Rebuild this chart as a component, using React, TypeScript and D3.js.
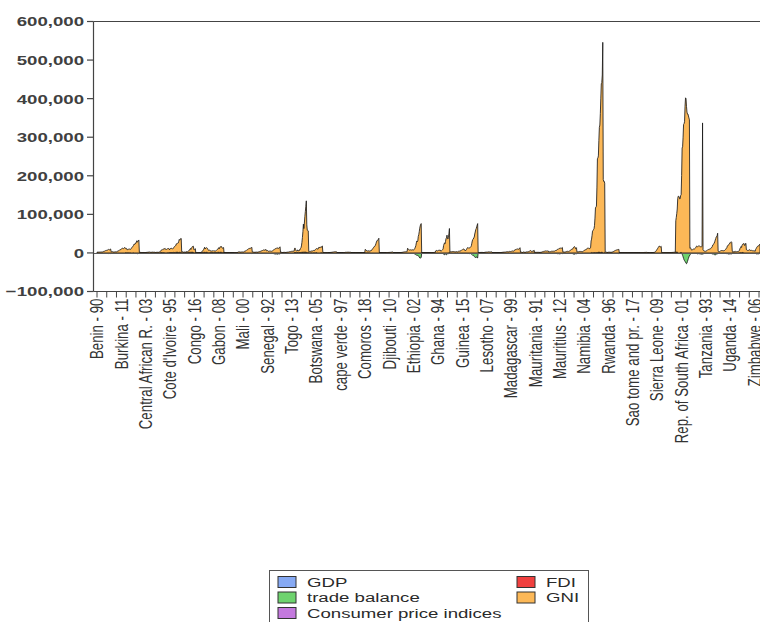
import React, { useEffect, useRef } from "react";
import * as d3 from "d3";

// panel: 47 countries x 1990-2018
const years = d3.range(1990, 2019);

const countries = [
  "Benin", "Burkina", "Cameroon", "Central African R.", "Chad", "Cote d'Ivoire", "Congo",
  "Equatorial Guinea", "Gabon", "Guinea-Bissau", "Mali", "Niger", "Senegal", "Togo",
  "Angola", "Botswana", "Burundi", "cape verde", "Comoros", "Congo DR", "Djibouti",
  "Eritrea", "Ethiopia", "Gambia", "Ghana", "Guinea", "Kenya", "Lesotho", "Liberia",
  "Madagascar", "Malawi", "Mauritania", "Mauritius", "Mozambique", "Namibia", "Nigeria",
  "Rwanda", "Sao tome and pr.", "Seychelles", "Sierra Leone", "Somalia",
  "Rep. of South Africa", "Sudan", "Tanzania", "Uganda", "Zambia", "Zimbabwe"
];

// GNI per country and year, in thousands of axis units
const gni = [
  [1.9,1.9,2.1,2.1,1.5,2,2.2,2.2,2.3,2.4,2.3,2.4,2.8,3.5,4,4.3,4.6,5.4,6.4,6.6,6.5,7.2,7.4,8.3,9.1,8.1,8.4,9.1,10.2],
  [3.1,3.1,3.3,3.1,1.9,2.4,2.6,2.4,2.7,2.8,2.5,2.7,3.1,4.1,4.8,5.4,5.8,6.7,8.2,8.3,8.9,10.5,11,12,12.2,10.7,11.5,12.5,14.2],
  [11,10.8,11.3,10.7,7.3,8.2,8.9,9.2,9.3,9.9,9,9.1,10.4,13,14.9,15.6,16.8,19.3,22.6,22.2,22.6,25.5,25,28.3,31.6,28,29.2,31.8,33.5],
  [1.4,1.3,1.3,1.2,0.9,1.1,1,0.9,1,1,0.9,0.9,0.9,1.1,1.2,1.3,1.4,1.6,1.9,1.9,2,2.2,2.1,1.5,1.6,1.6,1.8,1.9,2.2],
  [1.7,1.8,1.8,1.4,1.1,1.4,1.5,1.4,1.6,1.5,1.4,1.7,1.9,2.5,3.5,5,5.5,6.5,7.5,7,8.5,10,10,10.5,11,9,9,9,10],
  [10.2,10.1,10.8,10.3,7.1,9.8,10.4,10,10.8,10.7,9.3,9.5,10.5,13.5,15.3,15.8,16.5,18.7,22.2,22,22.8,23.5,24.6,29.1,33.5,31.8,33.5,36.2,36.5],
  [2.5,2.5,2.7,2,1.5,1.7,1.9,2,1.6,1.9,2.6,2.3,2.4,2.8,3.7,5.2,6.8,7.2,10,8,10.5,13,15,15,16,9,7.5,8,10],
  [0.1,0.1,0.1,0.1,0.1,0.1,0.2,0.3,0.3,0.5,0.7,1.2,1.7,2.5,4,6,7.5,10,13,9,11,12,12,11,10.5,7.5,6.5,6.5,7],
  [5,4.5,5,4.2,3.6,4.2,4.5,4.8,4,4,4.5,4.2,4.3,5.4,6,7.2,8,10,12,9.5,11.5,14.5,14.5,15,15,12,11.5,12,13],
  [0.3,0.3,0.2,0.2,0.2,0.3,0.3,0.3,0.2,0.2,0.2,0.2,0.2,0.3,0.3,0.4,0.4,0.5,0.6,0.6,0.6,0.8,0.7,0.8,0.8,0.9,1,1.2,1.3],
  [2.4,2.4,2.6,2.5,1.7,2.2,2.5,2.3,2.5,2.4,2.1,2.3,3,4,4.5,5,5.5,6.5,7.8,8.2,9.3,10.7,10.5,11,12.5,12,12.8,13.5,14.5],
  [2.4,2.3,2.2,1.6,1.5,1.8,1.9,1.8,2,2,1.8,1.9,2.1,2.7,3,3.4,3.6,4.2,5.3,5.3,5.6,6.2,7,7.5,8.1,7.2,7.5,8.1,9.2],
  [5.5,5.5,6,5.7,3.8,4.6,4.8,4.3,4.5,4.6,4.2,4.4,4.8,6,7.1,7.6,8.2,9.8,11.3,10.8,11,12.2,11.8,12.7,13.3,11.5,12.5,13.8,15.8],
  [1.6,1.6,1.6,1.2,0.9,1.2,1.3,1.4,1.4,1.4,1.2,1.2,1.4,1.6,1.8,2,2.1,2.4,3,3.1,3.2,3.6,3.8,4.2,4.5,4,4.2,4.6,5.1],
  [10.5,11.2,7.8,5.2,3.9,4.2,6.6,6.1,4.5,4.1,7.2,7.1,10.4,12.3,16.8,25.9,38.6,53.5,72.5,61.8,75.6,92.1,105.4,118.6,133.5,72,58,57,56],
  [3.5,3.6,3.7,3.9,4,4.5,4.7,5,4.9,5.4,5.9,5.6,5.7,7.8,9.2,9.8,10.4,10.5,10.3,9.5,12.5,15,14,14.2,15.3,13.8,15.2,16.4,17.8],
  [1.1,1.1,1,0.9,0.9,1,0.9,0.9,0.9,0.8,0.8,0.7,0.6,0.6,0.6,1.1,1.2,1.3,1.6,1.7,2,2.2,2.4,2.6,2.9,3,2.9,3,3],
  [0.3,0.3,0.4,0.4,0.4,0.5,0.5,0.5,0.6,0.6,0.5,0.5,0.6,0.8,0.9,1,1.1,1.4,1.6,1.6,1.6,1.8,1.7,1.8,1.8,1.6,1.7,1.8,1.9],
  [0.25,0.25,0.3,0.3,0.2,0.3,0.3,0.25,0.25,0.25,0.2,0.2,0.25,0.35,0.4,0.4,0.4,0.45,0.55,0.55,0.55,0.6,0.6,0.65,0.7,0.6,0.6,0.65,0.7],
  [9,8,7,5,4,5,5,5,6,4,5,5,7,7,8,10,12,14,16,16,18,20,24,28,31,33,33,35,38],
  [0.4,0.4,0.4,0.4,0.5,0.5,0.5,0.5,0.5,0.5,0.6,0.6,0.6,0.6,0.7,0.7,0.8,0.9,1,1.1,1.2,1.3,1.4,1.5,1.6,1.8,2,2.2,2.5],
  [0.5,0.5,0.5,0.5,0.5,0.6,0.6,0.7,0.7,0.7,0.6,0.7,0.6,0.6,0.6,0.9,1.1,1.2,1.4,1.7,2,2.3,2.5,2.7,2.8,2.9,3,3.1,3.2],
  [12,10,9,8,7.5,7.5,8,8,7.5,7.5,8,8,7.5,8,9.5,12,15,19,26,31,29,31,43,47,55,64,70,74,76],
  [0.3,0.3,0.35,0.35,0.35,0.4,0.45,0.45,0.45,0.45,0.45,0.4,0.35,0.35,0.4,0.6,0.6,0.9,1,0.9,0.9,0.9,0.9,0.9,0.8,1.3,1.4,1.4,1.5],
  [5.5,6.2,6.2,5.8,5.1,6.2,6.6,6.6,7.2,7.3,4.8,5,5.8,7,8.5,10.5,19,23,26,24,30,37,39,46,37,36,40,50,62],
  [2.5,2.8,3,3,3.2,3.5,3.6,3.6,3.4,3.3,2.8,2.7,2.8,3.2,3.4,2.8,2.7,3.8,4.2,4.4,4.5,4.6,5.5,6.2,7.5,8.2,8.2,9.5,10.5],
  [8.3,7.8,8,5.5,7,8.8,12,13,14,12.5,12.6,12.8,13,14.7,16,18.5,25,31,35,36,39,41,49,54,60,63,68,72,76],
  [0.8,0.9,1,1,1,1.2,1.2,1.3,1.2,1.2,1.1,1,0.9,1.3,1.6,1.8,1.9,2,2,2,2.4,2.7,2.6,2.6,2.6,2.5,2.4,2.6,2.8],
  [0.4,0.35,0.3,0.2,0.2,0.15,0.15,0.25,0.35,0.4,0.45,0.45,0.45,0.4,0.5,0.6,0.7,0.8,0.9,1.1,1.3,1.5,1.6,1.8,1.9,2,2.1,2.2,2.1],
  [3,2.6,3,3.2,2.9,3.1,3.9,3.5,3.6,3.6,3.8,4.4,4.3,5.3,4.3,4.9,5.4,7.2,9.1,8.3,8.4,9.6,9.7,10.4,10.6,9.5,9.9,11.2,13.5],
  [1.8,2.1,1.8,2.1,1.2,1.4,2.2,2.6,1.7,1.7,1.7,1.7,2.6,2.5,2.6,2.9,3.2,3.6,4.2,4.9,5.9,6.2,4.2,3.7,4.2,4.2,3.3,6.3,6.8],
  [1.2,1.3,1.4,1.4,1.4,1.5,1.5,1.5,1.5,1.5,1.3,1.3,1.4,1.6,1.9,2.3,3,3.2,3.8,3.3,4,4.7,5,5.2,5,4.6,4.8,5,5.1],
  [2.6,2.8,3.1,3.2,3.5,3.9,4.3,4.3,4.2,4.3,4.4,4.4,4.6,5.5,6.2,6.3,6.6,7.6,9.4,8.7,9.7,11.2,11.6,12,12.5,11.5,12,12.9,14],
  [2.4,2.7,1.9,2.1,2.1,2.3,2.9,3.4,3.9,4,4.1,3.8,3.9,4.5,5.3,6.2,7,7.9,9.5,9.6,9.8,12.4,14.5,15.5,16.3,15.1,11,12,13.5],
  [2.4,2.6,3,2.9,3.3,3.7,3.7,3.8,3.6,3.5,3.5,3.2,3.1,4.6,6,6.5,7.2,8.2,8,8.3,10.6,12,12.3,12.6,12.4,11,10.7,13.2,13.7],
  [30,35,45,56,58,60,62,70,90,116,118,120,170,243,245,250,290,324,330,360,400,437,440,460,545,190,185,185,180],
  [2.5,2,2,2,0.7,1.3,1.4,1.8,1.9,1.8,1.7,1.6,1.6,1.7,1.9,2.5,3,3.6,4.6,5.2,5.6,6.3,7.1,7.4,7.9,8.2,8.3,8.8,9.3],
  [0.1,0.1,0.1,0.1,0.1,0.1,0.1,0.1,0.1,0.1,0.1,0.1,0.1,0.1,0.1,0.1,0.1,0.15,0.2,0.2,0.2,0.25,0.25,0.3,0.35,0.3,0.35,0.35,0.4],
  [0.35,0.35,0.4,0.45,0.45,0.45,0.45,0.5,0.55,0.55,0.55,0.55,0.6,0.65,0.75,0.8,0.9,0.95,0.85,0.75,0.9,1,1,1.2,1.2,1.25,1.3,1.4,1.5],
  [0.6,0.7,0.6,0.7,0.8,0.8,0.8,0.8,0.6,0.6,0.6,1,1.1,1.2,1.5,2,3,4,6,8,10,12,14,16,18,17,15,16,17],
  [0.9,0.9,0.8,0.8,0.8,0.9,0.9,0.9,0.9,0.9,0.9,0.9,0.9,0.9,1,1,1,1,1,1,1.1,1.1,1.2,1.3,1.4,1.5,1.6,1.7,1.8],
  [82,90,100,112,140,147,147,145,140,140,148,150,200,272,275,300,333,335,340,380,402,400,380,365,360,360,355,350,345],
  [12,13,12,8,7,8,9,10,10,10,11,12,14,16,18,17,16,17,18,17,18,17,16,17,16,17,337,8,6],
  [4.5,4.8,4.2,4.2,4.4,5.1,6.3,7.6,8.3,8.6,9.4,9.6,10,10.6,11.6,13.7,14,16.5,20.5,21.3,23.8,25.3,28.8,33,37,41,43,45,51],
  [4.2,3.3,2.8,3.2,3.9,5.6,5.9,6.1,6.5,5.9,5.8,5.6,5.7,6.2,7.8,8.9,9.7,12,14,18,19.5,19.7,22,23.5,26.2,26,27,29,27],
  [3.6,3.4,3.1,3.1,3.3,3.5,3.2,3.9,3.3,3.2,3.4,3.7,3.6,4.2,5.1,6.8,11.5,12.7,16,13.8,18,21,22,23.3,24.5,19.5,19.5,24,25],
  [8.4,8.2,6.6,6.3,6.6,6.9,8.2,8.2,6,6.6,6.5,6.6,6,5.5,5.4,5.5,5.2,5.1,4.2,9,11,13.5,16,17,18,18.5,19,21,23]
];

// trade balance per country and year, in thousands of axis units
const tradeBalance = [
  [-0.2,-0.2,-0.3,-0.3,-0.2,-0.3,-0.3,-0.3,-0.3,-0.3,-0.3,-0.3,-0.4,-0.5,-0.5,-0.5,-0.6,-0.9,-1.1,-1,-1,-1.2,-1.3,-1.5,-1.6,-1.2,-1.1,-1.3,-1.5],
  [-0.4,-0.4,-0.4,-0.4,-0.3,-0.4,-0.5,-0.5,-0.5,-0.5,-0.4,-0.4,-0.4,-0.5,-0.6,-0.7,-0.7,-0.8,-1,-0.6,-0.4,-0.2,-0.3,-0.6,-0.4,-0.5,-0.3,-0.4,-0.5],
  [0.6,0.5,0.4,0.4,0.5,0.4,0.4,0.3,0.1,0.2,0.4,0.1,0,-0.1,-0.2,0,0.5,0.2,-0.3,-1.2,-1,-1.5,-1.2,-1.5,-1.6,-2,-1.4,-1.2,-1.6],
  [-0.1,-0.1,-0.1,-0.1,-0.1,-0.1,-0.1,-0.1,-0.1,-0.1,-0.1,-0.1,-0.1,-0.1,-0.1,-0.1,-0.1,-0.2,-0.2,-0.2,-0.3,-0.3,-0.3,-0.3,-0.4,-0.4,-0.4,-0.4,-0.4],
  [-0.2,-0.2,-0.2,-0.2,-0.1,-0.2,-0.2,-0.2,-0.2,-0.2,-0.3,-0.8,-1.2,-0.4,0.5,0.9,1,1.1,1.2,0.3,0.5,0.8,0.6,0.5,0.6,-0.2,-0.3,0.1,0.3],
  [0.6,0.6,0.6,0.6,0.8,0.9,1,1,1,1,0.9,1,1.3,1.2,1.1,1,1.3,1.1,1.5,1.6,1.4,1.8,1.2,1.1,1.5,1.3,1.1,1.2,0.7],
  [0.3,0.3,0.3,0.3,0.2,0.3,0.4,0.5,0.3,0.5,0.8,0.6,0.6,0.7,0.9,1.2,1.4,1.2,1.5,1,1.5,1.5,1.6,1.4,1.2,0.2,-0.5,0.6,1],
  [0,0,0,0,0,0,0,0.1,0,0.2,0.4,0.6,0.8,0.8,1,1.2,1.3,1.4,1.5,1,1.2,1.4,1.5,1.3,1.2,0.6,0.4,0.5,0.6],
  [0.8,0.7,0.8,0.7,0.8,0.9,1,1,0.5,0.8,1,0.9,0.8,0.9,1,1.2,1.3,1.4,1.5,1,1.3,1.5,1.5,1.4,1.3,0.8,0.6,0.8,1],
  [-0.1,-0.1,-0.1,-0.1,-0.1,-0.1,-0.1,-0.1,-0.1,-0.1,-0.1,-0.1,-0.1,-0.1,-0.1,-0.1,-0.1,-0.1,-0.1,-0.1,-0.1,-0.1,-0.1,-0.1,0,0,0,0,-0.1],
  [-0.3,-0.3,-0.3,-0.3,-0.2,-0.3,-0.3,-0.2,-0.2,-0.3,-0.3,-0.2,0,-0.2,-0.3,-0.4,-0.2,-0.5,-0.9,-0.6,-1,-1,-0.4,-0.8,-1,-0.9,-1,-1.1,-1.2],
  [-0.1,-0.1,-0.1,-0.1,-0.1,-0.1,-0.1,-0.1,-0.2,-0.1,-0.1,-0.1,-0.2,-0.2,-0.3,-0.3,-0.3,-0.4,-0.8,-1.2,-1.5,-1.3,-0.8,-0.9,-1.2,-1.3,-1,-1.1,-1.3],
  [-0.6,-0.6,-0.6,-0.6,-0.4,-0.5,-0.6,-0.6,-0.6,-0.7,-0.8,-0.8,-0.9,-1.1,-1.4,-1.8,-2,-2.8,-3.4,-2.5,-2.4,-2.8,-3.2,-3.2,-3,-2.2,-2,-2.6,-3],
  [-0.2,-0.2,-0.2,-0.1,-0.1,-0.2,-0.2,-0.2,-0.2,-0.2,-0.2,-0.2,-0.2,-0.3,-0.3,-0.4,-0.5,-0.5,-0.6,-0.6,-0.7,-1,-1,-1.1,-1,-0.8,-0.8,-0.8,-0.9],
  [1.5,1.2,1,0.8,0.7,0.8,1,1,0.5,0.8,1,0.8,1,1,1.3,1.5,1.6,1.8,2,1.2,1.8,2,2,1.8,1.5,0.8,0.6,1,1.2],
  [0.1,0.1,0.1,0.1,0.1,0.2,0.3,0.3,0,0.2,0.5,0.4,0.3,0.3,0.2,0.6,0.8,0.5,-0.4,-0.8,-0.9,-0.6,-1.2,-0.3,0.4,-0.6,0.7,0.3,-0.4],
  [-0.2,-0.2,-0.2,-0.2,-0.2,-0.1,-0.1,-0.1,-0.1,-0.1,-0.1,-0.1,-0.1,-0.1,-0.2,-0.3,-0.4,-0.4,-0.4,-0.4,-0.5,-0.6,-0.7,-0.7,-0.7,-0.6,-0.6,-0.6,-0.7],
  [-0.1,-0.1,-0.1,-0.1,-0.2,-0.2,-0.2,-0.2,-0.2,-0.2,-0.2,-0.2,-0.2,-0.3,-0.3,-0.3,-0.4,-0.5,-0.6,-0.5,-0.5,-0.6,-0.5,-0.4,-0.4,-0.3,-0.3,-0.4,-0.4],
  [-0.1,-0.1,-0.1,-0.1,-0.1,-0.1,-0.1,-0.1,-0.1,-0.1,-0.1,-0.1,-0.1,-0.1,-0.1,-0.1,-0.2,-0.2,-0.2,-0.2,-0.2,-0.2,-0.2,-0.2,-0.2,-0.2,-0.2,-0.2,-0.2],
  [0.3,0.3,0.2,0.2,0.3,0.3,0.2,0.2,0.1,0.1,0.1,0,0,-0.1,-0.2,-0.4,-0.5,-0.6,-0.9,-0.8,-0.4,-0.5,-1,-0.6,-0.5,-0.8,-0.4,-0.3,-0.2],
  [-0.1,-0.1,-0.1,-0.1,-0.1,-0.1,-0.1,-0.1,-0.1,-0.1,-0.1,-0.1,-0.1,-0.1,-0.2,-0.2,-0.3,-0.4,-0.5,-0.4,-0.3,-0.4,-0.5,-0.6,-0.6,-0.8,-0.7,-0.6,-0.5],
  [-0.2,-0.2,-0.2,-0.2,-0.3,-0.4,-0.4,-0.4,-0.4,-0.4,-0.4,-0.4,-0.4,-0.4,-0.5,-0.4,-0.4,-0.5,-0.5,-0.5,-0.5,-0.3,-0.2,-0.2,-0.2,-0.3,-0.2,-0.2,-0.2],
  [-0.6,-0.5,-0.5,-0.6,-0.7,-0.8,-0.9,-1,-1,-1.2,-1.1,-1.3,-1.4,-1.6,-2.2,-3,-4,-4.3,-5.5,-6,-6.2,-6.5,-8,-8.5,-10.5,-13,-13.5,-12.5,-12],
  [-0.1,-0.1,-0.1,-0.1,-0.1,-0.1,-0.1,-0.1,-0.1,-0.1,-0.1,-0.1,-0.1,-0.1,-0.1,-0.1,-0.2,-0.2,-0.2,-0.2,-0.2,-0.2,-0.2,-0.2,-0.2,-0.2,-0.3,-0.3,-0.3],
  [-0.5,-0.6,-0.8,-0.9,-0.5,-0.5,-0.7,-1,-1,-1.2,-0.8,-0.9,-0.6,-0.8,-1.5,-2.5,-3,-3.8,-4.8,-2,-3,-3.5,-4.5,-4,-1.5,-3,-2,1,1.3],
  [-0.1,-0.1,-0.1,-0.1,-0.1,-0.1,-0.1,-0.1,-0.1,-0.1,-0.1,-0.1,-0.1,-0.1,-0.1,-0.2,-0.2,-0.3,-0.4,-0.2,-0.5,-0.6,-0.6,-0.6,-0.5,-0.6,-0.4,-0.3,-0.3],
  [-0.8,-0.6,-0.5,-0.3,-0.5,-1.2,-1.1,-1.5,-1.6,-1.3,-1.5,-1.8,-1.5,-1.5,-2,-3,-4,-5,-6.5,-6,-7,-9.5,-10.5,-11,-12.5,-11,-10,-12.5,-13],
  [-0.5,-0.6,-0.6,-0.6,-0.7,-0.8,-0.8,-0.8,-0.7,-0.6,-0.5,-0.5,-0.5,-0.5,-0.6,-0.7,-0.8,-0.9,-1,-1.1,-1.3,-1.4,-1.4,-1.3,-1.2,-1.1,-1,-1,-1.1],
  [-0.1,-0.1,-0.1,-0.1,-0.1,-0.1,-0.1,-0.1,-0.1,-0.1,-0.1,-0.1,-0.1,-0.2,-0.2,-0.3,-0.4,-0.5,-0.6,-0.6,-0.7,-0.8,-0.9,-0.9,-0.9,-0.8,-0.7,-0.7,-0.8],
  [-0.3,-0.3,-0.2,-0.2,-0.2,-0.3,-0.3,-0.3,-0.3,-0.3,-0.2,-0.2,-0.2,-0.3,-0.4,-0.5,-0.6,-0.8,-1.2,-0.9,-0.8,-0.7,-0.6,-0.7,-0.6,-0.5,-0.5,-0.6,-0.7],
  [-0.1,-0.1,-0.1,-0.1,-0.1,-0.1,-0.1,-0.1,-0.1,-0.1,-0.1,-0.1,-0.2,-0.2,-0.2,-0.3,-0.4,-0.5,-0.6,-0.7,-0.8,-0.9,-1,-1,-1.1,-1,-0.9,-1,-1.1],
  [-0.1,-0.1,-0.1,-0.1,-0.1,-0.1,-0.1,-0.1,-0.1,-0.1,-0.1,-0.1,-0.1,-0.2,-0.2,-0.4,-0.3,-0.5,-0.6,-0.5,-0.4,-0.5,-0.9,-1,-0.8,-0.9,-0.6,-0.6,-0.7],
  [-0.3,-0.3,-0.3,-0.4,-0.4,-0.4,-0.4,-0.4,-0.4,-0.4,-0.4,-0.4,-0.5,-0.6,-0.8,-1,-1.2,-1.5,-1.9,-1.6,-1.8,-2.1,-2.3,-2.2,-2,-1.6,-1.5,-1.7,-2],
  [-0.2,-0.3,-0.3,-0.3,-0.3,-0.4,-0.4,-0.4,-0.4,-0.3,-0.3,-0.3,-0.4,-0.5,-0.6,-0.8,-1,-1.1,-1.3,-1.5,-1.8,-2.4,-3,-3.3,-3.2,-2.9,-2,-2.2,-2.6],
  [-0.1,-0.1,-0.1,-0.2,-0.2,-0.2,-0.2,-0.2,-0.2,-0.2,-0.2,-0.2,-0.3,-0.3,-0.4,-0.5,-0.5,-0.6,-0.8,-0.8,-0.9,-1,-1.2,-1.4,-1.5,-1.4,-1.2,-1,-1.1],
  [0.8,0.7,0.5,0.4,0.3,0.6,0.9,0.8,0.2,0.5,1.2,0.8,0.6,0.9,1.3,1.5,1.6,1.4,1.5,0.9,1.2,1.4,1.5,1.3,0.9,-0.4,0.2,0.6,0.8],
  [-0.2,-0.2,-0.2,-0.2,-0.2,-0.2,-0.2,-0.2,-0.2,-0.2,-0.2,-0.2,-0.2,-0.2,-0.3,-0.4,-0.5,-0.6,-0.8,-0.9,-1,-1.1,-1.2,-1.3,-1.3,-1.3,-1.2,-1.1,-1.3],
  [-0.1,-0.1,-0.1,-0.1,-0.1,-0.1,-0.1,-0.1,-0.1,-0.1,-0.1,-0.1,-0.1,-0.1,-0.1,-0.1,-0.1,-0.1,-0.1,-0.1,-0.1,-0.1,-0.1,-0.1,-0.1,-0.1,-0.1,-0.1,-0.1],
  [-0.2,-0.2,-0.2,-0.2,-0.2,-0.2,-0.2,-0.2,-0.2,-0.2,-0.2,-0.2,-0.2,-0.3,-0.3,-0.3,-0.4,-0.5,-0.6,-0.5,-0.5,-0.5,-0.6,-0.6,-0.6,-0.6,-0.5,-0.5,-0.6],
  [-0.1,-0.1,-0.1,-0.1,-0.1,-0.1,-0.1,-0.1,-0.1,-0.1,-0.1,-0.1,-0.1,-0.1,-0.2,-0.2,-0.2,-0.2,-0.3,-0.3,-0.4,-0.6,-0.5,-0.4,-0.6,-0.8,-0.6,-0.7,-0.8],
  [-0.2,-0.2,-0.2,-0.2,-0.2,-0.2,-0.2,-0.2,-0.2,-0.2,-0.2,-0.2,-0.2,-0.2,-0.3,-0.3,-0.3,-0.3,-0.4,-0.4,-0.4,-0.4,-0.4,-0.5,-0.5,-0.5,-0.5,-0.5,-0.5],
  [1.5,1.8,2,1.8,1,-0.5,0,-0.3,-0.5,0.5,0.8,1,0.5,-3,-6,-10,-14,-18,-20,-22,-24,-27,-28,-26,-22,-18,-14,-10,-8],
  [-5,-4,-0.5,-0.5,-0.6,-0.7,-0.8,-0.9,-1,-0.8,-0.5,-0.6,-0.8,-0.9,-1.2,-1.8,-2.5,-2.2,-1.8,-2.5,-2,-2.2,-2.8,-3,-3.2,-3.5,-3,-2.8,-2.5],
  [-0.6,-0.6,-0.6,-0.6,-0.7,-0.8,-0.8,-0.9,-1,-1,-0.9,-0.9,-0.9,-1,-1.2,-1.5,-1.9,-2.4,-3.1,-2.8,-3.2,-4.3,-4.5,-4.8,-4.6,-3.9,-2.5,-2.2,-2.8],
  [-0.3,-0.3,-0.3,-0.3,-0.4,-0.5,-0.6,-0.6,-0.7,-0.7,-0.6,-0.7,-0.7,-0.8,-0.9,-1.1,-1.3,-1.6,-2,-1.8,-2.2,-2.8,-2.7,-2.6,-2.7,-2.6,-2.1,-2.2,-3],
  [0.2,0.2,0.1,0.1,0.2,0.1,0,0.1,-0.1,-0.2,-0.2,-0.3,-0.2,-0.1,0.1,0.2,0.8,0.6,0.3,0.4,1.2,1.1,0.8,0.3,0.2,-0.7,-0.3,-0.2,-0.5],
  [-0.3,-0.3,-0.3,-0.3,-0.3,-0.3,-0.3,-0.3,-0.3,-0.3,-0.2,-0.2,-0.3,-0.3,-0.4,-0.5,-0.5,-0.6,-1,-1.5,-2,-2.6,-2.5,-2.3,-2.2,-2.4,-1.8,-1.6,-2.2]
];

// per-country levels for the three near-zero series
const gdpGrowth = [4.5,5.5,3,1,5,3.5,3,12,2.5,2.5,4.5,4,4,3.5,5.5,5,2,5,2.5,3.5,3.5,2.5,8,3,5.5,4,4.5,3.5,4,3,4,3.5,4.5,6.5,4,4.5,7,4,3.5,4,2.5,2.5,4,5.5,6,5,2];
const cpiIndex = [88,86,90,85,89,84,87,80,92,88,89,90,91,87,62,78,72,90,88,55,86,70,64,85,58,66,70,80,78,66,58,84,82,70,76,60,74,65,84,64,80,76,52,70,74,60,66];
const fdiShare = [1.5,1.2,1.3,1,3.5,1.6,8,12,3,1.2,2.3,3.2,1.8,2.5,4,3,0.5,6,1.2,3.5,5,2.5,2.8,4,4.2,5,1,3,12,3.5,2.5,6,2,9,4.5,2,1.8,10,9,6,1.5,1.4,2.5,3.5,3.6,5,1.5];

const seriesKeys = ["gdp", "trade", "cpi", "fdi", "gni"];
const seriesColors = {
  gdp: "#86a9f3",
  trade: "#6ed36e",
  cpi: "#c479de",
  fdi: "#f0403f",
  gni: "#fcb857"
};
const legendItems = [
  { key: "gdp", name: "GDP", col: 0, row: 0 },
  { key: "trade", name: "trade balance", col: 0, row: 1 },
  { key: "cpi", name: "Consumer price indices", col: 0, row: 2 },
  { key: "fdi", name: "FDI", col: 1, row: 0 },
  { key: "gni", name: "GNI", col: 1, row: 1 }
];
const yTicks = [-100000, 0, 100000, 200000, 300000, 400000, 500000, 600000];

const rows = countries.flatMap((c, ci) =>
  years.map((yr, t) => ({
    label: `${c} - ${String(yr).slice(2)}`,
    gdp: gdpGrowth[ci],
    trade: tradeBalance[ci][t] * 1000,
    cpi: cpiIndex[ci],
    fdi: fdiShare[ci],
    gni: gni[ci][t] * 1000
  }))
);

const App = () => {
  const ref = useRef(null);

  useEffect(() => {
    const svg = d3.select(ref.current);
    svg.selectAll("*").remove();

    const left = 93.5, top = 21.5, bottom = 291.5, right = 766;

    const x = d3.scaleLinear().domain([0, rows.length - 1]).range([97, 760]);
    const y = d3.scaleLinear().domain([-100000, 600000]).range([bottom, top]);

    svg.append("rect").attr("width", 760).attr("height", 622).attr("fill", "#fff");

    svg.append("clipPath").attr("id", "plot-clip")
      .append("rect").attr("x", left).attr("y", top).attr("width", right - left).attr("height", bottom - top);

    const stack = d3.stack().keys(seriesKeys).offset(d3.stackOffsetDiverging);
    const layers = stack(rows);

    const area = d3.area()
      .x((d, i) => x(i))
      .y0(d => y(d[0]))
      .y1(d => y(d[1]));

    const plot = svg.append("g").attr("clip-path", "url(#plot-clip)");

    plot.selectAll("path.layer")
      .data(layers)
      .enter()
      .append("path")
      .attr("class", "layer")
      .attr("d", area)
      .attr("fill", d => seriesColors[d.key])
      .attr("stroke", "#1b1b1b")
      .attr("stroke-width", 0.85)
      .attr("stroke-linejoin", "round");

    // zero line
    plot.append("line")
      .attr("x1", left).attr("x2", right)
      .attr("y1", Math.round(y(0)) + 0.5).attr("y2", Math.round(y(0)) + 0.5)
      .attr("stroke", "#5a5a5a")
      .attr("stroke-width", 1);

    // frame
    const frame = svg.append("g").attr("stroke", "#444").attr("stroke-width", 1.2).attr("fill", "none");
    frame.append("line").attr("x1", left).attr("x2", left).attr("y1", top).attr("y2", bottom);
    frame.append("line").attr("x1", left).attr("x2", right).attr("y1", top).attr("y2", top);
    frame.append("line").attr("x1", left).attr("x2", right).attr("y1", bottom).attr("y2", bottom);

    // y axis
    const yAxis = svg.append("g");
    yTicks.forEach(v => {
      const yy = y(v);
      yAxis.append("line")
        .attr("x1", 87).attr("x2", left)
        .attr("y1", yy).attr("y2", yy)
        .attr("stroke", "#444").attr("stroke-width", 1.2);
      yAxis.append("text")
        .attr("transform", `translate(84, ${yy}) scale(1.38, 1)`)
        .attr("text-anchor", "end")
        .attr("dy", "0.36em")
        .attr("font-size", 13.5)
        .attr("font-weight", "bold")
        .attr("fill", "#404040")
        .text(d3.format(",")(v));
    });

    // x axis
    const xAxis = svg.append("g");
    d3.range(0, rows.length, 20).forEach(i => {
      xAxis.append("line")
        .attr("x1", x(i)).attr("x2", x(i))
        .attr("y1", bottom).attr("y2", bottom + 6)
        .attr("stroke", "#444").attr("stroke-width", 1);
    });
    d3.range(0, rows.length, 50).forEach(i => {
      xAxis.append("text")
        .attr("transform", `translate(${x(i)}, ${bottom + 7}) scale(1.38, 1) rotate(-90)`)
        .attr("text-anchor", "end")
        .attr("dy", "0.35em")
        .attr("font-size", 13.3)
        .attr("fill", "#333")
        .text(rows[i].label);
    });

    // legend
    const lg = svg.append("g");
    lg.append("rect")
      .attr("x", 269.5).attr("y", 570.5).attr("width", 319).attr("height", 60)
      .attr("fill", "#fff").attr("stroke", "#555").attr("stroke-width", 1);
    legendItems.forEach(it => {
      const sx = it.col === 0 ? 278 : 517;
      const ry = 582 + it.row * 15.5;
      lg.append("rect")
        .attr("x", sx).attr("y", ry - 5.5).attr("width", 18).attr("height", 11)
        .attr("fill", seriesColors[it.key]).attr("stroke", "#333").attr("stroke-width", 1);
      lg.append("text")
        .attr("transform", `translate(${sx + 29}, ${ry}) scale(1.38, 1)`)
        .attr("dy", "0.36em")
        .attr("font-size", 13.5)
        .attr("fill", "#2a2a2a")
        .text(it.name);
    });
  }, []);

  return (
    <svg
      ref={ref}
      width={760}
      height={622}
      style={{ position: "absolute", left: 0, top: 0, fontFamily: "'Liberation Sans', Arial, sans-serif" }}
    />
  );
};

export default App;
